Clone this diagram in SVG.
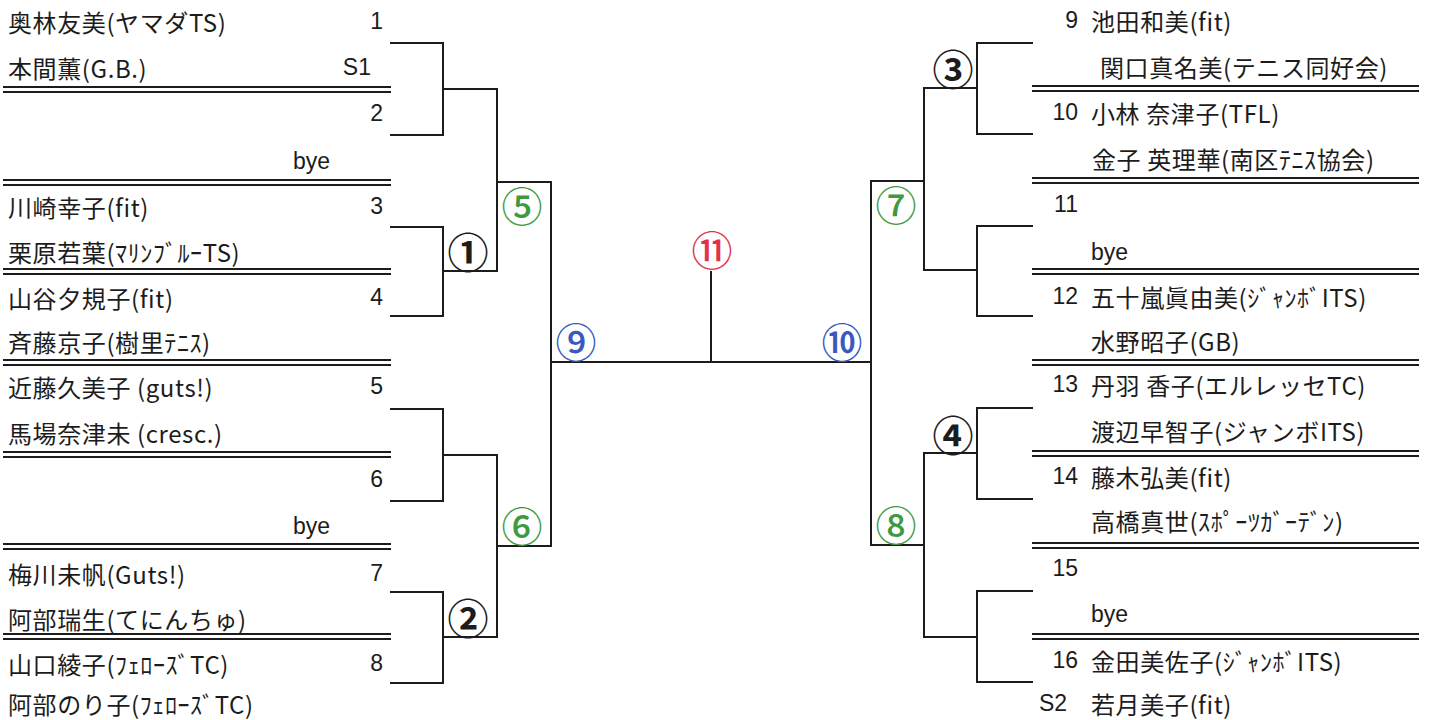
<svg xmlns="http://www.w3.org/2000/svg" width="1434" height="720" viewBox="0 0 1434 720">
<style>
.ln{stroke:#1c1c1c;stroke-width:2;fill:none;stroke-linecap:square}
.dl{stroke:#1c1c1c;stroke-width:1.8}
.t{font-family:"Noto Sans CJK JP","Noto Sans CJK SC",sans-serif;font-size:24px;letter-spacing:0.6px;fill:#1c1c1c;dominant-baseline:central}
.n{font-family:"Liberation Sans",Arial,sans-serif;font-size:23px;fill:#1c1c1c;dominant-baseline:central}
.ne{text-anchor:end}
.c{font-family:"Noto Sans CJK JP","Noto Sans CJK SC",sans-serif;font-size:41px;text-anchor:middle;dominant-baseline:central}
.k{fill:#1c1c1c;font-weight:700}
.g{fill:#3f9a3f;font-weight:500}
.b{fill:#3a58c0;font-weight:500}
.r{fill:#e0324a;font-weight:500}
</style>
<rect width="1434" height="720" fill="#ffffff"/>
<g id="connectors">
  <g id="dlines-left">
    <line class="dl" x1="3" y1="87" x2="391" y2="87"/><line class="dl" x1="3" y1="92" x2="391" y2="92"/>
    <line class="dl" x1="3" y1="180" x2="391" y2="180"/><line class="dl" x1="3" y1="185" x2="391" y2="185"/>
    <line class="dl" x1="3" y1="269" x2="391" y2="269"/><line class="dl" x1="3" y1="274" x2="391" y2="274"/>
    <line class="dl" x1="3" y1="360" x2="391" y2="360"/><line class="dl" x1="3" y1="365" x2="391" y2="365"/>
    <line class="dl" x1="3" y1="452" x2="391" y2="452"/><line class="dl" x1="3" y1="457" x2="391" y2="457"/>
    <line class="dl" x1="3" y1="544" x2="391" y2="544"/><line class="dl" x1="3" y1="549" x2="391" y2="549"/>
    <line class="dl" x1="3" y1="634" x2="391" y2="634"/><line class="dl" x1="3" y1="639" x2="391" y2="639"/>
  </g>
  <g id="dlines-right">
    <line class="dl" x1="1032" y1="86" x2="1419" y2="86"/><line class="dl" x1="1032" y1="91" x2="1419" y2="91"/>
    <line class="dl" x1="1032" y1="178" x2="1419" y2="178"/><line class="dl" x1="1032" y1="183" x2="1419" y2="183"/>
    <line class="dl" x1="1032" y1="269" x2="1419" y2="269"/><line class="dl" x1="1032" y1="274" x2="1419" y2="274"/>
    <line class="dl" x1="1032" y1="360" x2="1419" y2="360"/><line class="dl" x1="1032" y1="365" x2="1419" y2="365"/>
    <line class="dl" x1="1032" y1="451" x2="1419" y2="451"/><line class="dl" x1="1032" y1="456" x2="1419" y2="456"/>
    <line class="dl" x1="1032" y1="543" x2="1419" y2="543"/><line class="dl" x1="1032" y1="548" x2="1419" y2="548"/>
    <line class="dl" x1="1032" y1="634" x2="1419" y2="634"/><line class="dl" x1="1032" y1="639" x2="1419" y2="639"/>
  </g>
  <path class="ln" d="M391,43 H443 V135 H391 M443,89 H497"/>
  <path class="ln" d="M391,227 H443 V316 H391 M443,271 H497"/>
  <path class="ln" d="M391,409 H443 V501 H391 M443,455 H497"/>
  <path class="ln" d="M391,592 H443 V683 H391 M443,637 H497"/>
  <path class="ln" d="M497,89 V271 M497,182 H551"/>
  <path class="ln" d="M497,455 V637 M497,546 H551"/>
  <path class="ln" d="M551,182 V546 M551,362 H871"/>
  <path class="ln" d="M711,272 V362"/>
  <path class="ln" d="M871,181 V545 M871,181 H924 M871,545 H924"/>
  <path class="ln" d="M924,88 V270"/>
  <path class="ln" d="M924,453 V637"/>
  <path class="ln" d="M1032,43 H977 V134 H1032 M977,88 H924"/>
  <path class="ln" d="M1032,226 H977 V316 H1032 M977,270 H924"/>
  <path class="ln" d="M1032,408 H977 V499 H1032 M977,453 H924"/>
  <path class="ln" d="M1032,591 H977 V682 H1032 M977,637 H924"/>
</g>
<g id="left-entries">
  <g id="row-l1"><text class="t" x="8" y="21">奥林友美(ヤマダTS)</text><text class="n ne" x="383" y="21">1</text></g>
  <g id="row-l2"><text class="t" x="8" y="67">本間薫(G.B.)</text><text class="n ne" x="371" y="67">S1</text></g>
  <g id="row-l3"><text class="n ne" x="383" y="113">2</text></g>
  <g id="row-l4"><text class="n" x="293" y="161">bye</text></g>
  <g id="row-l5"><text class="t" x="8" y="206">川崎幸子(fit)</text><text class="n ne" x="383" y="206">3</text></g>
  <g id="row-l6"><text class="t" x="8" y="251">栗原若葉(ﾏﾘﾝﾌﾞﾙｰTS)</text></g>
  <g id="row-l7"><text class="t" x="8" y="297">山谷夕規子(fit)</text><text class="n ne" x="383" y="297">4</text></g>
  <g id="row-l8"><text class="t" x="8" y="341">斉藤京子(樹里ﾃﾆｽ)</text></g>
  <g id="row-l9"><text class="t" x="8" y="386">近藤久美子 (guts!)</text><text class="n ne" x="383" y="386">5</text></g>
  <g id="row-l10"><text class="t" x="8" y="432">馬場奈津未 (cresc.)</text></g>
  <g id="row-l11"><text class="n ne" x="383" y="479">6</text></g>
  <g id="row-l12"><text class="n" x="293" y="526">bye</text></g>
  <g id="row-l13"><text class="t" x="8" y="573">梅川未帆(Guts!)</text><text class="n ne" x="383" y="573">7</text></g>
  <g id="row-l14"><text class="t" x="8" y="618">阿部瑞生(てにんちゅ)</text></g>
  <g id="row-l15"><text class="t" x="8" y="663">山口綾子(ﾌｪﾛｰｽﾞTC)</text><text class="n ne" x="383" y="663">8</text></g>
  <g id="row-l16"><text class="t" x="8" y="703">阿部のり子(ﾌｪﾛｰｽﾞTC)</text></g>
</g>
<g id="right-entries">
  <g id="row-r1"><text class="n ne" x="1078" y="20">9</text><text class="t" x="1091" y="20">池田和美(fit)</text></g>
  <g id="row-r2"><text class="t" x="1100" y="66">関口真名美(テニス同好会)</text></g>
  <g id="row-r3"><text class="n ne" x="1078" y="112">10</text><text class="t" x="1091" y="112">小林 奈津子(TFL)</text></g>
  <g id="row-r4"><text class="t" x="1092" y="158">金子 英理華(南区ﾃﾆｽ協会)</text></g>
  <g id="row-r5"><text class="n ne" x="1078" y="204">11</text></g>
  <g id="row-r6"><text class="n" x="1091" y="252">bye</text></g>
  <g id="row-r7"><text class="n ne" x="1078" y="296">12</text><text class="t" x="1091" y="296">五十嵐眞由美(ｼﾞｬﾝﾎﾞITS)</text></g>
  <g id="row-r8"><text class="t" x="1091" y="340">水野昭子(GB)</text></g>
  <g id="row-r9"><text class="n ne" x="1078" y="384">13</text><text class="t" x="1091" y="384">丹羽 香子(エルレッセTC)</text></g>
  <g id="row-r10"><text class="t" x="1091" y="430">渡辺早智子(ジャンボITS)</text></g>
  <g id="row-r11"><text class="n ne" x="1078" y="476">14</text><text class="t" x="1091" y="476">藤木弘美(fit)</text></g>
  <g id="row-r12"><text class="t" x="1091" y="520">高橋真世(ｽﾎﾟｰﾂｶﾞｰﾃﾞﾝ)</text></g>
  <g id="row-r13"><text class="n ne" x="1078" y="568">15</text></g>
  <g id="row-r14"><text class="n" x="1091" y="614">bye</text></g>
  <g id="row-r15"><text class="n ne" x="1078" y="660">16</text><text class="t" x="1091" y="660">金田美佐子(ｼﾞｬﾝﾎﾞITS)</text></g>
  <g id="row-r16"><text class="n" x="1039" y="703">S2</text><text class="t" x="1091" y="703">若月美子(fit)</text></g>
</g>
<g id="matches">
  <g id="m1"><text class="c k" x="468" y="250">①</text></g>
  <g id="m2"><text class="c k" x="468" y="616">②</text></g>
  <g id="m3"><text class="c k" x="953" y="67">③</text></g>
  <g id="m4"><text class="c k" x="953" y="433">④</text></g>
  <g id="m5"><text class="c g" x="522" y="204">⑤</text></g>
  <g id="m6"><text class="c g" x="522" y="524">⑥</text></g>
  <g id="m7"><text class="c g" x="896" y="203">⑦</text></g>
  <g id="m8"><text class="c g" x="896" y="523">⑧</text></g>
  <g id="m9"><text class="c b" x="576" y="340">⑨</text></g>
  <g id="m10"><text class="c b" x="842" y="340">⑩</text></g>
  <g id="m11"><text class="c r" x="712" y="248">⑪</text></g>
</g>
</svg>
